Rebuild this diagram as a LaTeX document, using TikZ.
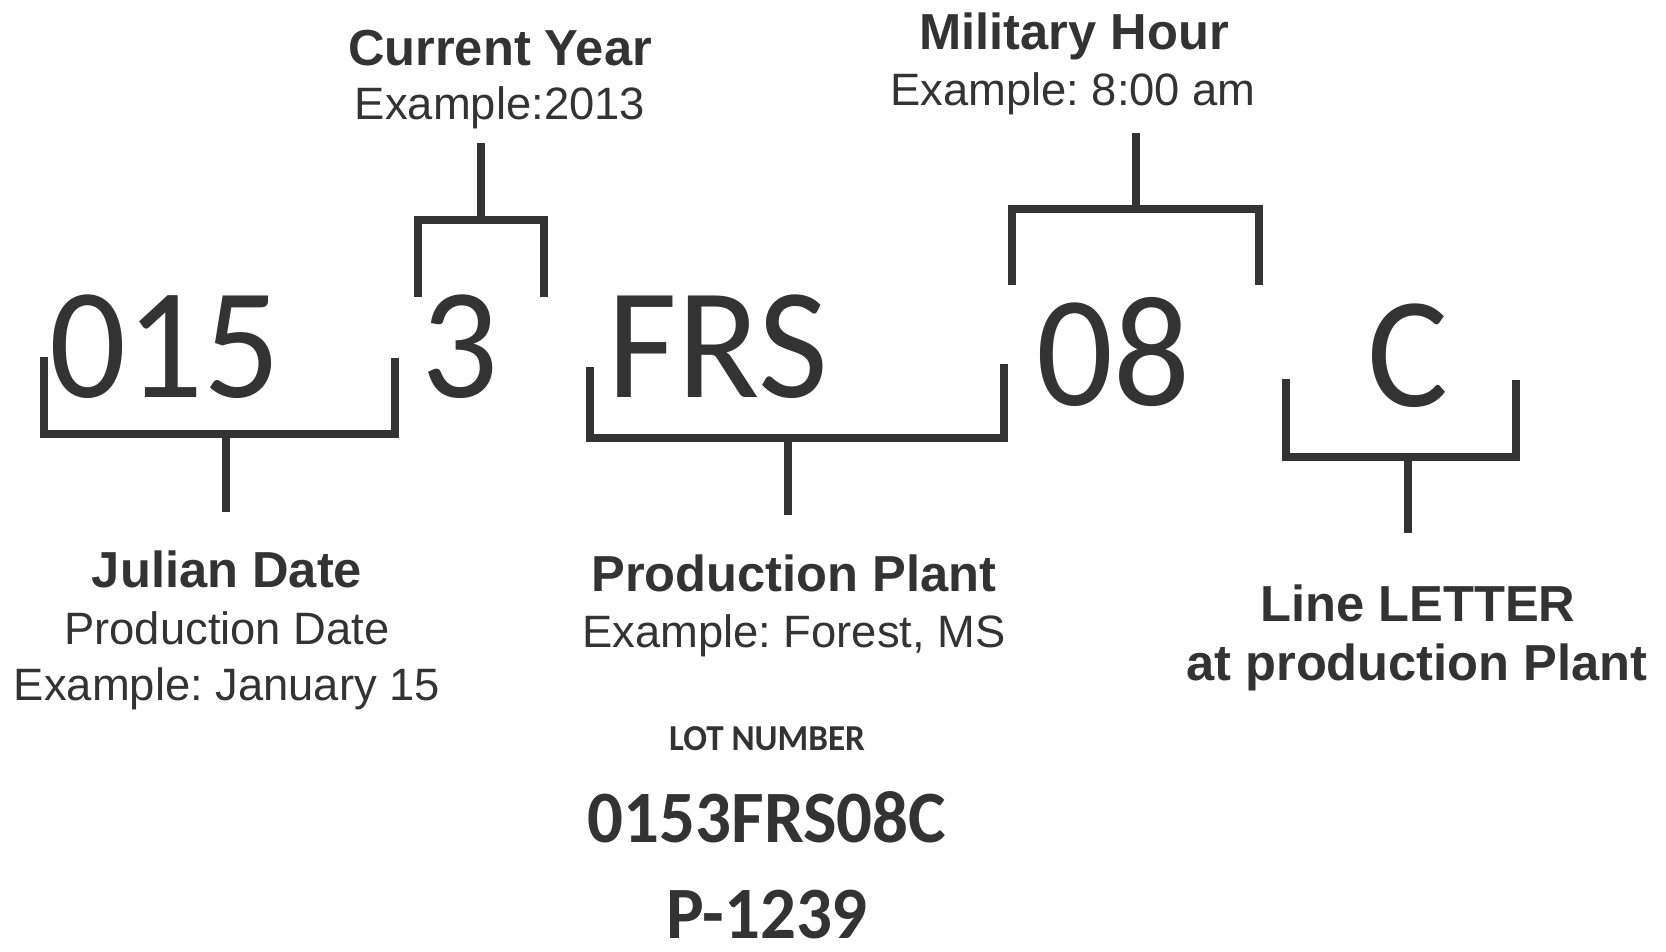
\documentclass[tikz,border=0pt]{standalone}
\usepackage{fontspec}
\setmainfont{Liberation Sans}
\newfontfamily\codefont[FakeStretch=0.96]{Carlito}
\usetikzlibrary{positioning}
\definecolor{ink}{HTML}{333333}

\begin{document}
\begin{tikzpicture}[
  x=0.01cm, y=-0.01cm,
  code/.style={anchor=base, inner sep=0pt, text=ink,
               font=\codefont\fontsize{45}{45}\selectfont},
  head/.style={anchor=base, inner sep=0pt, text=ink,
               font=\bfseries\fontsize{14.4}{16}\selectfont},
  sub/.style={anchor=base, inner sep=0pt, text=ink,
              font=\frenchspacing\fontsize{12.9}{16}\selectfont},
  lot/.style={anchor=base, inner sep=0pt, text=ink,
              font=\codefont\bfseries\fontsize{21}{22}\selectfont},
  brk/.style={draw=ink, line width=2pt},
  stem/.style={draw=ink, line width=2pt}
]
\useasboundingbox (0,0) rectangle (1666,952);

% the lot code, split in its parts
\node[code] (julian) at (165,398) {015};
\node[code] (year)   at (460,398) {3};
\node[code] (plant)  at (718,398) {FRS};
\node[code] (hour)   at (1113,406) {08};
\node[code] (line)   at (1408,407) {C};

% labels above
\node[head] (yearT)  at (500,66)  {Current Year};
\node[sub]  (yearS)  at (500,120) {Example:2013};
\node[head] (hourT)  at (1074,50) {Military Hour};
\node[sub]  (hourS)  at (1073,106) {Example: 8:00 am};

% labels below
\node[head] (julianT) at (227,588) {Julian Date};
\node[sub]  (julianS) at (227,645) {Production Date};
\node[sub]  (julianE) at (227,701) {Example: January 15};
\node[head] (plantT)  at (794,592) {Production Plant};
\node[sub]  (plantS)  at (794,648) {Example: Forest, MS};
\node[head] (lineT)   at (1418,622) {Line LETTER};
\node[head] (lineS)   at (1417,680) {at production Plant};

\node[lot, font=\codefont\bfseries\fontsize{10.4}{12}\selectfont] (lotT) at (767,751) {LOT NUMBER};
\node[lot] (lotN) at (767,842) {0153FRS08C};
\node[lot] (lotP) at (767,938) {P-1239};

% brackets
\draw[brk] (44,357) |- (395,434) -- (395,358);
\draw[brk] (418,297) |- (544,220) -- (544,297);
\draw[brk] (590,367) |- (1004,438) -- (1004,364);
\draw[brk] (1012,285) |- (1259,209) -- (1259,285);
\draw[brk] (1286,379) |- (1516,457) -- (1516,380);

% stems
\coordinate (jb) at (226,434);  \coordinate (je) at (226,512);
\coordinate (yb) at (481,220);  \coordinate (ye) at (481,143);
\coordinate (pb) at (788,438);  \coordinate (pe) at (788,515);
\coordinate (hb) at (1136,209); \coordinate (he) at (1136,133);
\coordinate (lb) at (1408,457); \coordinate (le) at (1408,533);
\draw[stem] (jb) -- (je); \draw[stem] (yb) -- (ye);
\draw[stem] (pb) -- (pe); \draw[stem] (hb) -- (he);
\draw[stem] (lb) -- (le);
\end{tikzpicture}
\end{document}
